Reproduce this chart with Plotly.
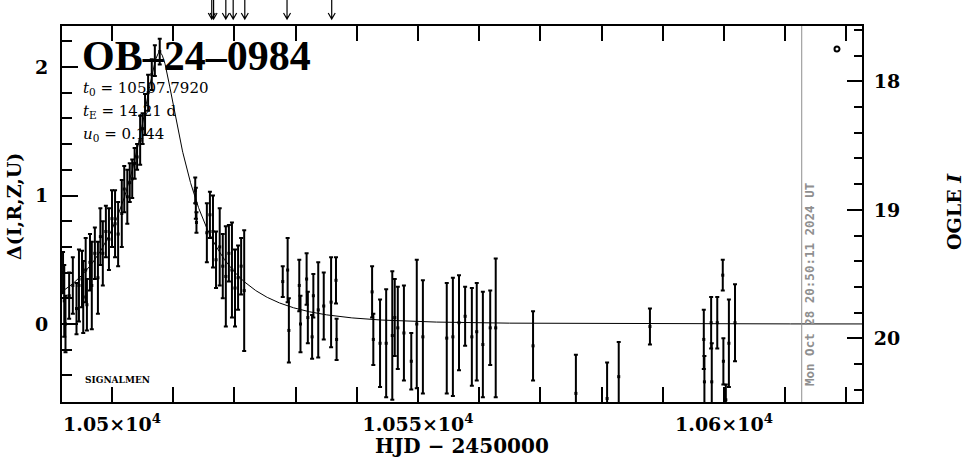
import numpy as np
import plotly.graph_objects as go

# ---------------- data ----------------
hjd = [
    10492.0, 10492.2, 10492.4, 10493.0, 10493.6, 10494.2, 10494.6, 10495.1, 10495.3, 10495.7,
    10495.9, 10496.4, 10496.7, 10497.2, 10497.7, 10498.1, 10498.5, 10499.0, 10499.5, 10500.0,
    10500.5, 10501.0, 10501.6, 10502.0, 10502.5, 10502.9, 10503.3, 10503.7, 10504.1, 10504.6,
    10505.0, 10505.4, 10505.9, 10506.5, 10507.0, 10507.8,
    10513.6, 10513.7, 10513.8, 10515.5, 10516.0, 10516.5, 10517.0, 10517.6, 10518.1, 10518.6,
    10519.1, 10519.6, 10520.1, 10520.6, 10521.1, 10521.6,
    10527.9, 10528.7, 10528.9, 10530.6, 10530.8, 10531.8, 10532.0, 10532.7, 10532.9, 10533.7,
    10534.6, 10535.8, 10536.6, 10536.7,
    10542.5, 10542.7, 10543.8, 10544.8, 10545.8, 10546.2, 10546.7, 10547.7, 10548.9, 10549.8,
    10550.8,
    10554.7, 10555.7, 10556.7, 10557.7, 10558.8, 10559.6, 10560.6, 10561.8, 10562.7,
    10568.8, 10575.8, 10580.9, 10582.8, 10587.9,
    10596.7, 10596.8, 10597.9, 10598.0, 10598.9, 10599.8, 10599.9, 10600.3, 10600.8, 10601.8,
]
dmag = [
    0.40, 0.18, 0.00, 0.22, 0.30, 0.12, 0.30, 0.35, 0.21, 0.42,
    0.15, 0.48, 0.30, 0.55, 0.36, 0.68, 0.55, 0.72, 0.66, 0.82,
    0.78, 0.70, 0.86, 1.05, 0.99, 1.10, 1.13, 1.25, 1.30, 1.43,
    1.52, 1.63, 1.80, 1.94, 2.05, 2.12,
    1.04, 0.94, 0.79, 0.71, 0.85, 0.72, 0.50, 0.60, 0.45, 0.37,
    0.55, 0.42, 0.28, 0.36, 0.45, 0.26,
    0.33, 0.42, -0.05, 0.30, 0.00, 0.35, 0.05, -0.10, 0.22, 0.11,
    0.14, 0.17, 0.34, -0.12,
    0.25, -0.12, -0.15, -0.15, -0.09, 0.05, -0.03, -0.07, -0.29, 0.00,
    -0.10,
    -0.11, -0.10, 0.01, 0.06, -0.10, -0.06, -0.16, -0.03, -0.03,
    -0.17, -0.54, -0.58, -0.41, -0.02,
    -0.12, -0.45, 0.01, -0.45, 0.01, 0.38, -0.29, -0.59, -0.15, 0.01,
]
err = [
    0.16, 0.28, 0.22, 0.18, 0.22, 0.20, 0.28, 0.22, 0.28, 0.25,
    0.20, 0.22, 0.34, 0.20, 0.28, 0.22, 0.25, 0.20, 0.24, 0.22,
    0.26, 0.25, 0.26, 0.18, 0.21, 0.15, 0.15, 0.12, 0.10, 0.19,
    0.12, 0.16, 0.14, 0.12, 0.12, 0.10,
    0.10, 0.12, 0.08, 0.23, 0.18, 0.28, 0.22, 0.30, 0.25, 0.39,
    0.22, 0.37, 0.30, 0.25, 0.22, 0.47,
    0.12, 0.25, 0.25, 0.20, 0.22, 0.20, 0.20, 0.17, 0.17, 0.37,
    0.26, 0.35, 0.18, 0.16,
    0.20, 0.20, 0.34, 0.42, 0.50, 0.30, 0.32, 0.37, 0.22, 0.50,
    0.44,
    0.43, 0.46, 0.37, 0.23, 0.38, 0.38, 0.41, 0.29, 0.54,
    0.27, 0.30, 0.28, 0.27, 0.14,
    0.23, 0.20, 0.20, 0.30, 0.20, 0.12, 0.18, 0.12, 0.34, 0.30,
]

event_name = "OB–24–0984"
t0 = 10507.7920
tE = 14.21
u0 = 0.144
I_base = 19.888                    # OGLE I at Delta = 0
arrow_times = [10516.3, 10516.6, 10518.6, 10519.8, 10521.7, 10528.6, 10535.9]
now_hjd = 10612.7
now_text = "Mon Oct 28 20:50:11 2024 UT"

x_range = [10491.83, 10622.55]
y_range = [-0.607, 2.319]
x_ticks = [10500, 10550, 10600]
x_ticktext = ["1.05×10<sup>4</sup>", "1.055×10<sup>4</sup>", "1.06×10<sup>4</sup>"]
y_ticks = [0, 1, 2]
y2_ticks = [18, 19, 20]

# ---------------- model ----------------
tm = np.linspace(x_range[0], x_range[1], 2000)
u = np.sqrt(u0 ** 2 + ((tm - t0) / tE) ** 2)
A = (u ** 2 + 2) / (u * np.sqrt(u ** 2 + 4))
model = 2.5 * np.log10(A)

# ---------------- geometry helpers ----------------
W, H = 965, 459
L, R, T, B = 62, 862, 26, 402


def px(x):
    return (x - L) / (R - L)


def py(y):
    return (B - y) / (B - T)


SERIF = "DejaVu Serif"
tickfont = dict(family=SERIF, size=19, color="black", weight="bold")

fig = go.Figure()
fig.add_trace(go.Scatter(x=tm, y=model, mode="lines",
                         line=dict(color="black", width=1), hoverinfo="skip", showlegend=False))
fig.add_trace(go.Scatter(x=hjd, y=dmag, mode="markers",
                         marker=dict(color="black", size=3, symbol="square"),
                         error_y=dict(type="data", array=err, visible=True,
                                      thickness=2, width=2, color="black"),
                         showlegend=False))
# invisible trace on the OGLE I axis so it renders
fig.add_trace(go.Scatter(x=hjd, y=[I_base - d for d in dmag], yaxis="y2", mode="markers",
                         marker=dict(opacity=0), hoverinfo="skip", showlegend=False))

fig.update_layout(
    width=W, height=H,
    margin=dict(l=L, r=W - R, t=T, b=H - B, pad=0),
    paper_bgcolor="white", plot_bgcolor="white",
    showlegend=False,
    xaxis=dict(range=x_range, showline=True, linewidth=2, linecolor="black",
               mirror="allticks", ticks="inside", ticklen=15, tickwidth=2, tickcolor="black",
               tickvals=x_ticks, ticktext=x_ticktext, tickfont=tickfont,
               ticklabelstandoff=4,
               minor=dict(dtick=10, tick0=10500, ticks="inside", ticklen=7, tickwidth=2,
                          tickcolor="black", showgrid=False),
               showgrid=False, zeroline=False),
    yaxis=dict(range=y_range, showline=True, linewidth=2, linecolor="black",
               mirror=False, ticks="inside", ticklen=16, tickwidth=2, tickcolor="black",
               tickvals=y_ticks, tickfont=tickfont, ticklabelstandoff=8,
               minor=dict(dtick=0.2, tick0=0, ticks="inside", ticklen=10, tickwidth=2,
                          tickcolor="black", showgrid=False),
               showgrid=False, zeroline=False),
    yaxis2=dict(overlaying="y", side="right",
                range=[I_base - y_range[0], I_base - y_range[1]],
                showline=True, linewidth=2, linecolor="black",
                ticks="inside", ticklen=15, tickwidth=2, tickcolor="black",
                tickvals=y2_ticks, tickfont=tickfont, ticklabelstandoff=6,
                minor=dict(dtick=0.2, tick0=18, ticks="inside", ticklen=8, tickwidth=2,
                           tickcolor="black", showgrid=False),
                showgrid=False, zeroline=False),
)

# vertical "now" line
fig.add_shape(type="line", xref="x", yref="paper", x0=now_hjd, x1=now_hjd, y0=0, y1=1,
              line=dict(color="#8f8f8f", width=1))

# arrows above the frame
for ta in arrow_times:
    fig.add_shape(type="path", xref="x", yref="paper", xsizemode="pixel", ysizemode="pixel",
                  xanchor=ta, yanchor=1,
                  path="M0,26 L0,7 M-3.5,13 L0,7 L3.5,13",
                  line=dict(color="black", width=1.2))

# small circle at top right
fig.add_shape(type="circle", xref="paper", yref="paper", xsizemode="pixel", ysizemode="pixel",
              xanchor=px(837), yanchor=py(49), x0=-2.5, x1=2.5, y0=-2.5, y1=2.5,
              line=dict(color="black", width=2))

ann = []
ann.append(dict(text=event_name, x=px(80), y=py(56), xanchor="left", yanchor="middle",
                font=dict(family="Liberation Serif", size=42, color="black", weight="bold")))
pfont = dict(family=SERIF, size=15, color="black")
ann.append(dict(text=f"<i>t</i><sub>0</sub> = {t0:.4f}", x=px(81), y=py(89),
                xanchor="left", yanchor="middle", font=pfont))
ann.append(dict(text=f"<i>t</i><sub>E</sub> = {tE:.2f} d", x=px(81), y=py(111),
                xanchor="left", yanchor="middle", font=pfont))
ann.append(dict(text=f"<i>u</i><sub>0</sub> = {u0:.3f}", x=px(81), y=py(134),
                xanchor="left", yanchor="middle", font=pfont))
ann.append(dict(text="SIGNALMEN", x=px(83), y=py(380), xanchor="left", yanchor="middle",
                font=dict(family=SERIF, size=9, color="black", weight="bold")))
ann.append(dict(text=now_text, x=px(809), y=py(285), xanchor="center", yanchor="middle",
                textangle=-90,
                font=dict(family="DejaVu Sans Mono", size=12.5, color="#8f8f8f", weight="bold")))
ann.append(dict(text="HJD − 2450000", x=px(462), y=py(446), xanchor="center", yanchor="middle",
                font=dict(family=SERIF, size=20, color="black", weight="bold")))
ann.append(dict(text="Δ(I,R,Z,U)", x=px(14), y=py(207), xanchor="center", yanchor="middle",
                textangle=-90, font=dict(family=SERIF, size=19, color="black", weight="bold")))
ann.append(dict(text="OGLE <i>I</i>", x=px(954), y=py(212), xanchor="center", yanchor="middle",
                textangle=-90, font=dict(family=SERIF, size=19, color="black", weight="bold")))
for a in ann:
    a.update(xref="paper", yref="paper", showarrow=False)
fig.update_layout(annotations=ann)

fig.write_html("out.html", config={"displayModeBar": False},
               post_script="document.body.style.margin='0';document.body.style.padding='0';")
